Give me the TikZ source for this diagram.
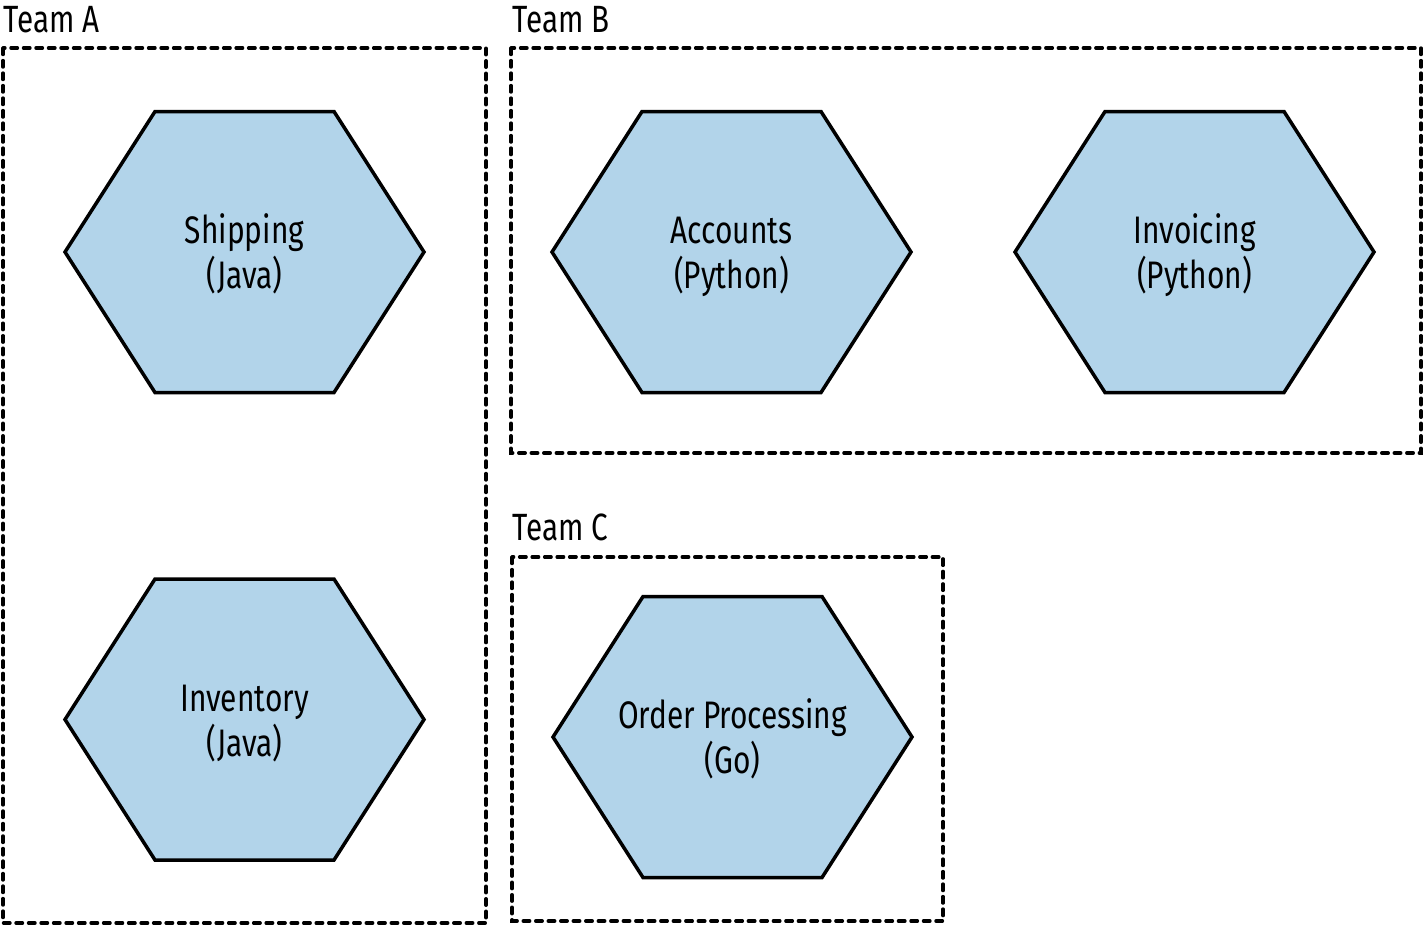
\documentclass[tikz,border=0pt]{standalone}
\usepackage{fontspec}
\setmainfont{Fira Sans}[FakeStretch=0.78]
\definecolor{hexblue}{HTML}{B2D4EA}
\begin{document}
\begin{tikzpicture}[x=0.01cm, y=-0.01cm,
  team box/.style={draw, line width=0.034cm, line cap=round, dash pattern=on 0.065cm off 0.06cm},
  team label/.style={anchor=base west, inner sep=0pt, font=\fontsize{10.8}{12}\selectfont},
  hexa/.style={draw, fill=hexblue, line width=0.035cm, line join=miter},
  hexa text/.style={align=center, inner sep=0pt, text height=7.7pt, text depth=2.6pt,
    font=\fontsize{10.9}{12.8}\selectfont}]
\useasboundingbox (0,0) rectangle (1425,926);
% team boxes
\draw [team box] (3,48) rectangle (486,923);
\draw [team box] (511,48) rectangle (1421,453);
\draw [team box] (512,557) rectangle (943,921);
\node [team label] (teamA) at (3,32) {Team A};
\node [team label] (teamB) at (512,32) {Team B};
\node [team label] (teamC) at (512,540) {Team C};
% services
\foreach \cx/\cy/\nm/\txt in {244.5/252/ship/{Shipping\\(Java)},
    244.5/719.5/inv/{Inventory\\(Java)},
    731.5/252/acc/{Accounts\\(Python)},
    1194.5/252/invc/{Invoicing\\(Python)},
    732.5/737/ord/{Order Processing\\(Go)}} {
  \draw [hexa] ({\cx-179.5},\cy) -- ({\cx-89.5},{\cy-140.5}) -- ({\cx+89.5},{\cy-140.5})
    -- ({\cx+179.5},\cy) -- ({\cx+89.5},{\cy+140.5}) -- ({\cx-89.5},{\cy+140.5}) -- cycle;
  \node [hexa text] (\nm) at (\cx,{\cy+28}) {\txt};
}
\end{tikzpicture}
\end{document}
